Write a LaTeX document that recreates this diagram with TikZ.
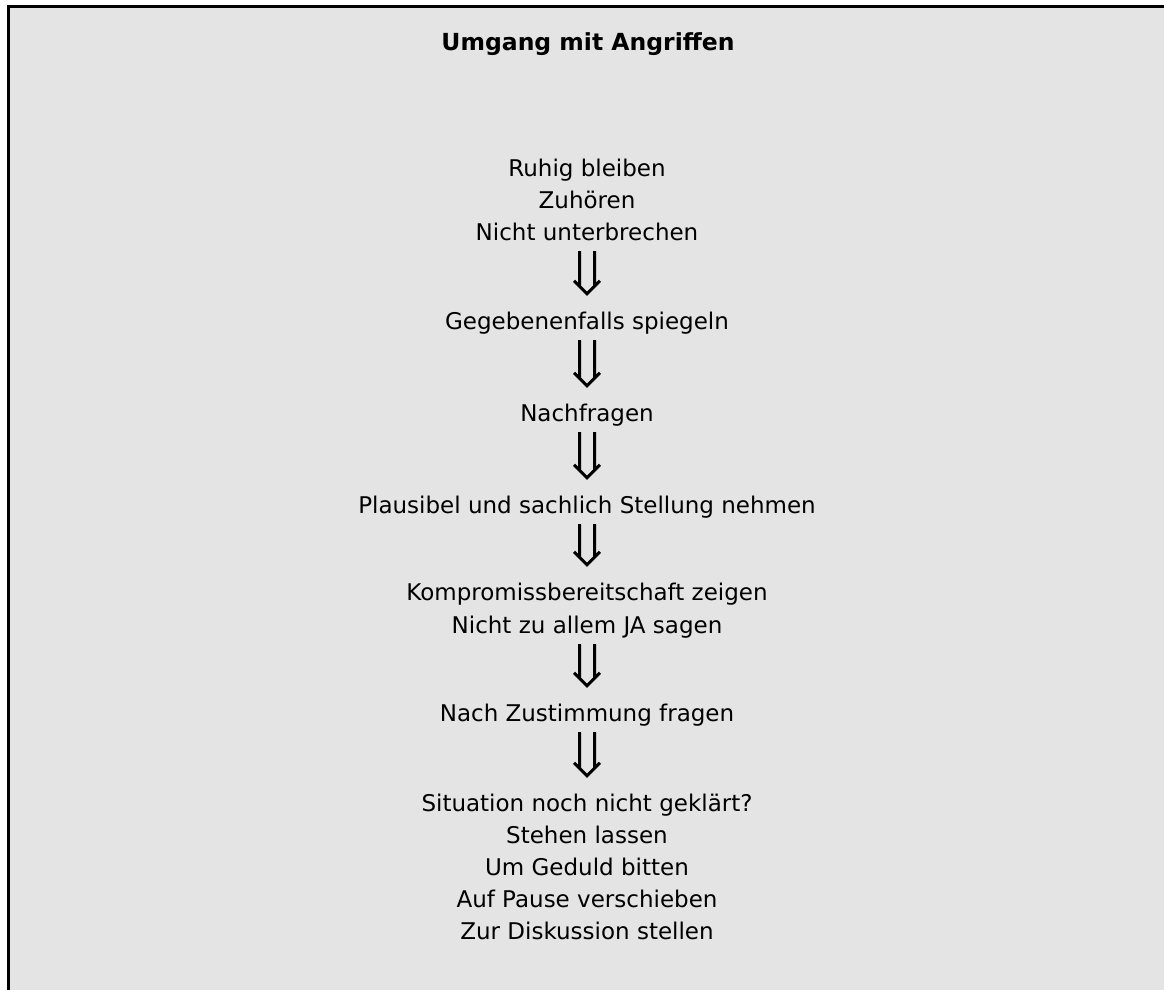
\documentclass[tikz,border=0pt]{standalone}
\usepackage{fontspec}
\setmainfont{DejaVu Sans}
\definecolor{panelgray}{HTML}{E4E4E4}

\begin{document}
\begin{tikzpicture}[x=1pt, y=-1pt,
    rowtext/.style={font=\fontsize{23}{32}\selectfont, inner sep=0pt,
        text height=17pt, text depth=6pt, anchor=base},
    headline/.style={font=\fontsize{23.5}{28}\selectfont\bfseries,
        inner sep=0pt, anchor=base},
    % double stem with an open V head, like the glyph of a down double arrow
    thenarrow/.style={line width=3pt, line join=miter, to path={
        ([xshift=-7.5pt, yshift=-5pt]\tikztostart.south)
            -- ([xshift=-7.5pt, yshift=25pt]\tikztotarget.north)
        ([xshift=7.5pt, yshift=-5pt]\tikztostart.south)
            -- ([xshift=7.5pt, yshift=25pt]\tikztotarget.north)
        ([xshift=-13pt, yshift=31pt]\tikztotarget.north)
            -- ([yshift=18pt]\tikztotarget.north)
            -- ([xshift=13pt, yshift=31pt]\tikztotarget.north)}}]
        \useasboundingbox (0,0) rectangle (1164,990);
        \fill[panelgray] (8,7) rectangle (1164,990);
        \draw[line width=3pt] (8,990) -- (8,7) -- (1164,7);

        \node[headline] (title) at (588,51) {Umgang mit Angriffen};

        \node[rowtext] (calm1) at (587,176) {Ruhig bleiben};
        \node[rowtext] (calm2) at (587,208) {Zuhören};
        \node[rowtext] (calm3) at (587,240) {Nicht unterbrechen};
        \node[rowtext] (mirror) at (587,329) {Gegebenenfalls spiegeln};
        \node[rowtext] (ask) at (587,421) {Nachfragen};
        \node[rowtext] (reply) at (587,513) {Plausibel und sachlich Stellung nehmen};
        \node[rowtext] (deal1) at (587,600) {Kompromissbereitschaft zeigen};
        \node[rowtext] (deal2) at (587,633) {Nicht zu allem JA sagen};
        \node[rowtext] (agree) at (587,721) {Nach Zustimmung fragen};
        \node[rowtext] (open1) at (587,811) {Situation noch nicht geklärt?};
        \node[rowtext] (open2) at (587,843) {Stehen lassen};
        \node[rowtext] (open3) at (587,875) {Um Geduld bitten};
        \node[rowtext] (open4) at (587,907) {Auf Pause verschieben};
        \node[rowtext] (open5) at (587,939) {Zur Diskussion stellen};

        \draw[thenarrow] (calm3) to (mirror);
        \draw[thenarrow] (mirror) to (ask);
        \draw[thenarrow] (ask) to (reply);
        \draw[thenarrow] (reply) to (deal1);
        \draw[thenarrow] (deal2) to (agree);
        \draw[thenarrow] (agree) to (open1);
    \end{tikzpicture}
\end{document}
